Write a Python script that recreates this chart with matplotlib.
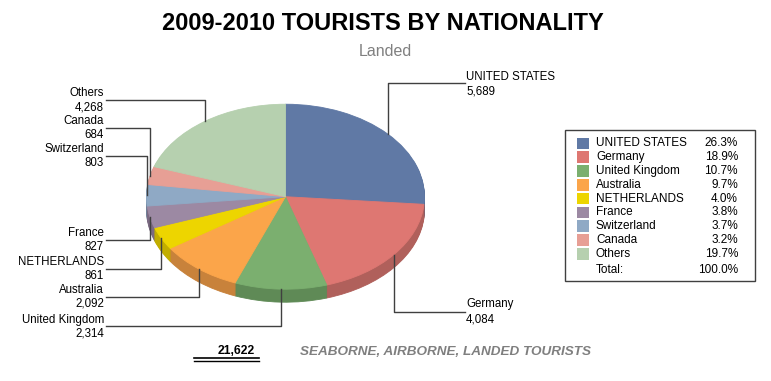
import matplotlib
matplotlib.use('Agg')
import matplotlib.pyplot as plt
from matplotlib.patches import Rectangle
import math

# ---------------- data ----------------
countries = ["UNITED STATES", "Germany", "United Kingdom", "Australia",
             "NETHERLANDS", "France", "Switzerland", "Canada", "Others"]
visitors = [5689, 4084, 2314, 2092, 861, 827, 803, 684, 4268]
top_colors = ["#6079A5", "#DE7772", "#7BAF6F", "#FBA54A", "#EDD500",
              "#9C89A3", "#8FA9C5", "#E79F95", "#B6D0AF"]
side_colors = ["#4A5F85", "#B0605B", "#5F8A56", "#C8823B", "#C2AE00",
               "#7B6A82", "#70869E", "#BA7E76", "#90A88A"]
title = "2009-2010 TOURISTS BY NATIONALITY"
subtitle = "Landed"
footer = "SEABORNE, AIRBORNE, LANDED TOURISTS"

# ---------------- layout (pixels) ----------------
plt.rcParams['font.family'] = ['Liberation Sans', 'DejaVu Sans']
W, H = 771, 381
cx, cy, rx, ry, depth = 285.5, 196.7, 139.0, 92.5, 13
pad = 0.25
# label placement: side, text x, name y, value y, leader y
label_layout = {
    "UNITED STATES": ("R", 466, 76.7, 91.0, 83.3),
    "Germany": ("R", 466, 304.3, 320.0, 312.3),
    "Others": ("L", 104, 93.0, 107.0, 100.0),
    "Canada": ("L", 104, 121.0, 135.0, 127.7),
    "Switzerland": ("L", 104, 149.0, 163.0, 156.0),
    "France": ("L", 104, 233.5, 247.5, 240.0),
    "NETHERLANDS": ("L", 104, 262.0, 276.0, 269.0),
    "Australia": ("L", 104, 290.0, 304.0, 297.0),
    "United Kingdom": ("L", 104, 319.5, 333.5, 326.0),
}

fig = plt.figure(figsize=(W / 100, H / 100), dpi=100)
fig.patch.set_facecolor('white')

pax = fig.add_axes([(cx - rx * (1 + pad)) / W, (H - cy - ry * (1 + pad)) / H,
                    2 * rx * (1 + pad) / W, 2 * ry * (1 + pad) / H])
for k in range(depth, 0, -1):
    res = pax.pie(visitors, colors=side_colors, startangle=90, counterclock=False,
                  center=(0, -k / ry), radius=1, wedgeprops=dict(linewidth=0.6))
    for w in res[0]:
        w.set_edgecolor(w.get_facecolor())
res = pax.pie(visitors, colors=top_colors, startangle=90, counterclock=False,
              radius=1, wedgeprops=dict(linewidth=0.6))
for w in res[0]:
    w.set_edgecolor(w.get_facecolor())
pax.set_xlim(-1 - pad, 1 + pad)
pax.set_ylim(-1 - pad, 1 + pad)
pax.set_aspect('auto')
pax.axis('off')

ax = fig.add_axes([0, 0, 1, 1])
ax.set_xlim(0, W)
ax.set_ylim(H, 0)
ax.axis('off')

total = sum(visitors)
cum = 0
line_col = "#404040"
for name, v in zip(countries, visitors):
    mid = 90 - 360.0 * (cum + v / 2) / total
    cum += v
    px = cx + rx * math.cos(math.radians(mid))
    py = cy - ry * math.sin(math.radians(mid))
    side, tx, ny, vy, ly = label_layout[name]
    if side == "L":
        ax.plot([tx + 2, px, px], [ly, ly, py], color=line_col, lw=1)
        ha = 'right'
    else:
        ax.plot([tx - 1, px, px], [ly, ly, py], color=line_col, lw=1)
        ha = 'left'
    ax.text(tx, ny, name, ha=ha, va='center', fontsize=8.3, color='black')
    ax.text(tx, vy, f"{v:,}", ha=ha, va='center', fontsize=8.3, color='black')

# legend
ax.add_patch(Rectangle((565, 130), 190, 151, facecolor='white',
                       edgecolor='#404040', lw=1))
for i, (name, v, c) in enumerate(zip(countries, visitors, top_colors)):
    yc = 143.3 + i * 13.8
    ax.add_patch(Rectangle((577, yc - 5.8), 11.5, 11.6, facecolor=c, edgecolor='none'))
    ax.text(596, yc, name, ha='left', va='center', fontsize=8.5)
    ax.text(738, yc, f"{100.0 * v / total:.1f}%", ha='right', va='center', fontsize=8.5)
ax.text(596, 270, "Total:", ha='left', va='center', fontsize=8.5)
ax.text(738, 270, f"{100.0:.1f}%", ha='right', va='center', fontsize=8.5)

# titles
ax.text(382.5, 23, title, ha='center', va='center', fontsize=17, fontweight='bold')
ax.text(385.7, 52, subtitle, ha='center', va='center', fontsize=11.5, color='#808080')

# footer
ax.text(255, 351, f"{total:,}", ha='right', va='center', fontsize=8.7, fontweight='bold')
ax.plot([194, 259], [358.3, 358.3], color='black', lw=1.2)
ax.plot([194, 259], [361.2, 361.2], color='black', lw=1.0)
ax.text(300, 352, footer, ha='left', va='center', fontsize=9.7, fontweight='bold',
        fontstyle='italic', color='#7F7F7F')

fig.savefig('out.png', dpi=100, facecolor='white')
